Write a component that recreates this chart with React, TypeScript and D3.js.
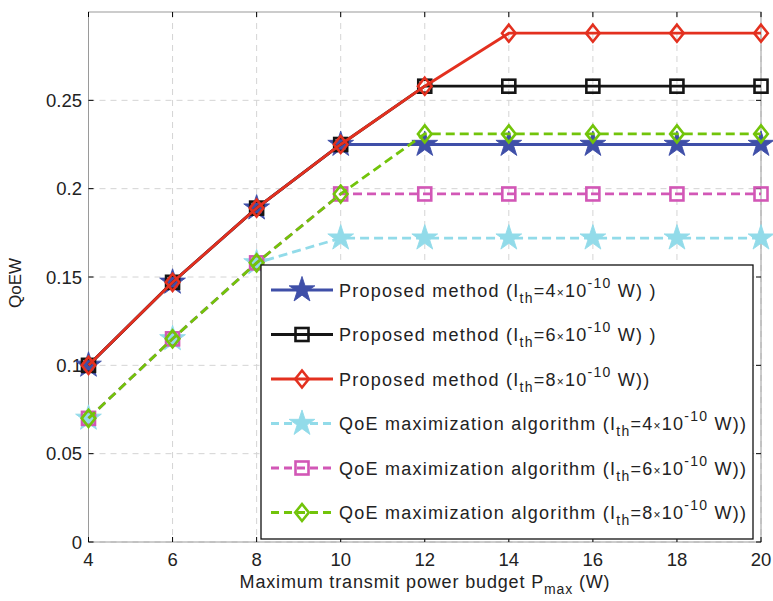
import React from "react";
import * as d3 from "d3";

// Maximum transmit power budget (W)
const pmax = [4, 6, 8, 10, 12, 14, 16, 18, 20];

// QoEW for each scheme
const proposed4 = [0.1, 0.147, 0.189, 0.225, 0.225, 0.225, 0.225, 0.225, 0.225];
const proposed6 = [0.1, 0.147, 0.189, 0.225, 0.258, 0.258, 0.258, 0.258, 0.258];
const proposed8 = [0.1, 0.147, 0.189, 0.225, 0.258, 0.288, 0.288, 0.288, 0.288];
const qoe4 = [0.07, 0.115, 0.158, 0.172, 0.172, 0.172, 0.172, 0.172, 0.172];
const qoe6 = [0.07, 0.115, 0.158, 0.197, 0.197, 0.197, 0.197, 0.197, 0.197];
const qoe8 = [0.07, 0.115, 0.158, 0.197, 0.231, 0.231, 0.231, 0.231, 0.231];

const xTicks = [4, 6, 8, 10, 12, 14, 16, 18, 20];
const yTicks = [0, 0.05, 0.1, 0.15, 0.2, 0.25];
const yTickLabels = ["0", "0.05", "0.1", "0.15", "0.2", "0.25"];

const legendPrefix = [
  "Proposed method",
  "Proposed method",
  "Proposed method",
  "QoE maximization algorithm",
  "QoE maximization algorithm",
  "QoE maximization algorithm",
];
const legendIth = ["4", "6", "8", "4", "6", "8"];
const legendTail = [" W) )", " W) )", " W))", " W))", " W))", " W))"];

type Series = {
  values: number[];
  color: string;
  dashed: boolean;
  marker: "star" | "square" | "diamond";
};

const series: Series[] = [
  { values: proposed4, color: "#3f4fa8", dashed: false, marker: "star" },
  { values: proposed6, color: "#151515", dashed: false, marker: "square" },
  { values: proposed8, color: "#e3301f", dashed: false, marker: "diamond" },
  { values: qoe4, color: "#92dbe9", dashed: true, marker: "star" },
  { values: qoe6, color: "#d257b6", dashed: true, marker: "square" },
  { values: qoe8, color: "#72c40a", dashed: true, marker: "diamond" },
];

const W = 773;
const H = 601;
const left = 88.5;
const right = 761;
const top = 12;
const bottom = 542;

const x = d3.scaleLinear().domain([4, 20]).range([left, right]);
const y = d3.scaleLinear().domain([0, 0.3]).range([bottom, top]);

const font = "Liberation Sans, Arial, Helvetica, sans-serif";
const starPath = d3.symbol(d3.symbolStar, 170)() as string;

function Marker({ kind, color, cx, cy }: { kind: string; color: string; cx: number; cy: number }) {
  if (kind === "star") {
    return <path d={starPath} transform={`translate(${cx},${cy}) scale(1.1)`} fill={color} stroke={color} strokeWidth={0.8} />;
  }
  if (kind === "square") {
    const s = 6.5;
    return (
      <rect x={cx - s} y={cy - s} width={2 * s} height={2 * s} fill="none" stroke={color} strokeWidth={2.6} />
    );
  }
  const r = 8.5;
  return (
    <path
      d={`M${cx},${cy - r}L${cx + r * 0.8},${cy}L${cx},${cy + r}L${cx - r * 0.8},${cy}Z`}
      fill="none"
      stroke={color}
      strokeWidth={2.6}
    />
  );
}

export default function App() {
  const line = d3
    .line<number>()
    .x((_, i) => x(pmax[i]))
    .y((v) => y(v));

  const legX = 261;
  const legY = 265;
  const legW = 492;
  const legH = 274;
  const rowY0 = 290;
  const rowStep = 44.5;

  return (
    <svg
      width={W}
      height={H}
      style={{ position: "absolute", left: 0, top: 0, background: "#fff" }}
      fontFamily={font}
    >
      {/* grid */}
      {xTicks.map((t) => (
        <line key={"gx" + t} x1={x(t)} x2={x(t)} y1={top} y2={bottom} stroke="#d4d4d4" strokeWidth={1} strokeDasharray="6,5" />
      ))}
      {yTicks.map((t) => (
        <line key={"gy" + t} x1={left} x2={right} y1={y(t)} y2={y(t)} stroke="#d4d4d4" strokeWidth={1} strokeDasharray="6,5" />
      ))}

      {/* axes box */}
      <rect x={left} y={top} width={right - left} height={bottom - top} fill="none" stroke="#9a9a9a" strokeWidth={1} />

      {/* ticks */}
      {xTicks.map((t) => (
        <g key={"tx" + t}>
          <line x1={x(t)} x2={x(t)} y1={bottom} y2={bottom - 5} stroke="#000" strokeWidth={1} />
          <line x1={x(t)} x2={x(t)} y1={top} y2={top + 5} stroke="#000" strokeWidth={1} />
          <text x={x(t)} y={566} textAnchor="middle" fontSize={18.5} fill="#222">
            {t}
          </text>
        </g>
      ))}
      {yTicks.map((t, i) => (
        <g key={"ty" + t}>
          <line x1={left} x2={left + 5} y1={y(t)} y2={y(t)} stroke="#000" strokeWidth={1} />
          <line x1={right} x2={right - 5} y1={y(t)} y2={y(t)} stroke="#000" strokeWidth={1} />
          <text x={82} y={y(t) + 6.5} textAnchor="end" fontSize={18.5} fill="#222">
            {yTickLabels[i]}
          </text>
        </g>
      ))}

      {/* axis labels */}
      <text x={425} y={588} textAnchor="middle" fontSize={18} letterSpacing={0.85} fill="#222">
        Maximum transmit power budget P
        <tspan fontSize={14} dy={6}>max</tspan>
        <tspan dy={-6}> (W)</tspan>
      </text>
      <text transform="translate(21,283) rotate(-90)" textAnchor="middle" fontSize={17} fill="#222">
        QoEW
      </text>

      {/* series */}
      {series.map((s, si) => (
        <g key={"s" + si}>
          <path
            d={line(s.values) as string}
            fill="none"
            stroke={s.color}
            strokeWidth={2.8}
            strokeDasharray={s.dashed ? "9,5" : undefined}
          />
          {s.values.map((v, i) => (
            <Marker key={i} kind={s.marker} color={s.color} cx={x(pmax[i])} cy={y(v)} />
          ))}
        </g>
      ))}

      {/* legend */}
      <rect x={legX} y={legY} width={legW} height={legH} fill="#fff" stroke="#111" strokeWidth={1.3} />
      {series.map((s, i) => {
        const ry = rowY0 + i * rowStep;
        return (
          <g key={"l" + i}>
            <line
              x1={271}
              x2={333}
              y1={ry}
              y2={ry}
              stroke={s.color}
              strokeWidth={2.8}
              strokeDasharray={s.dashed ? "8,5" : undefined}
            />
            <Marker kind={s.marker} color={s.color} cx={302} cy={ry} />
            <text x={339} y={ry + 6.5} fontSize={18} letterSpacing={1.25} fill="#222">
              {legendPrefix[i]} (I
              <tspan fontSize={14} dy={6}>th</tspan>
              <tspan dy={-6}>={legendIth[i]}</tspan>
              <tspan fontSize={12}>×</tspan>
              <tspan>10</tspan>
              <tspan fontSize={14} dy={-9}>-10</tspan>
              <tspan dy={9}>{legendTail[i]}</tspan>
            </text>
          </g>
        );
      })}
    </svg>
  );
}
